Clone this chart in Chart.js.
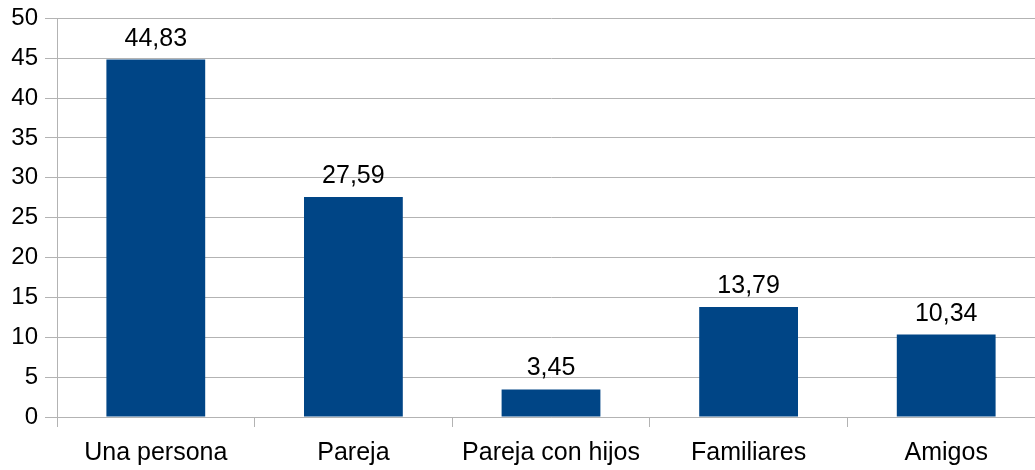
<!DOCTYPE html>
<html>
<head>
<meta charset="utf-8">
<script src="https://cdn.jsdelivr.net/npm/chart.js@4/dist/chart.umd.min.js"></script>
<style>
html,body{margin:0;padding:0;background:#fff;overflow:hidden;}
#wrap{width:1035px;height:470px;position:relative;overflow:hidden;}
canvas{display:block;}
</style>
</head>
<body>
<div id="wrap"><canvas id="c" width="1046" height="470"></canvas></div>
<script>
const categories = ["Una persona", "Pareja", "Pareja con hijos", "Familiares", "Amigos"];
const values = [44.83, 27.59, 3.45, 13.79, 10.34];
const valueLabels = ["44,83", "27,59", "3,45", "13,79", "10,34"];
const yTicks = [0, 5, 10, 15, 20, 25, 30, 35, 40, 45, 50];

const FONT = "'Liberation Sans', Arial, sans-serif";
const FSIZE_Y = 24;
const FSIZE = 25;

const labelPlugin = {
  id: 'valueLabels',
  afterDatasetsDraw(chart) {
    const ctx = chart.ctx;
    const meta = chart.getDatasetMeta(0);
    ctx.save();
    ctx.font = FSIZE + "px " + FONT;
    ctx.fillStyle = "#000";
    ctx.textAlign = "center";
    ctx.textBaseline = "alphabetic";
    meta.data.forEach((bar, i) => {
      ctx.fillText(valueLabels[i], bar.x, bar.y - 14);
    });
    ctx.restore();
  }
};

new Chart(document.getElementById('c'), {
  type: 'bar',
  data: {
    labels: categories,
    datasets: [{
      data: values,
      backgroundColor: '#004586',
      borderWidth: 0,
      categoryPercentage: 1,
      barPercentage: 0.5
    }]
  },
  options: {
    responsive: false,
    animation: false,
    devicePixelRatio: 1,
    layout: { padding: { top: 10, right: 1, left: 0, bottom: 0 } },
    plugins: { legend: { display: false }, tooltip: { enabled: false } },
    scales: {
      x: {
        offset: true,
        grid: {
          offset: true,
          display: true,
          drawOnChartArea: false,
          drawTicks: true,
          tickLength: 10,
          color: '#b3b3b3',
          lineWidth: 1
        },
        border: { display: true, color: '#b3b3b3' },
        ticks: {
          color: '#000',
          font: { family: FONT, size: FSIZE },
          padding: 11,
          maxRotation: 0,
          autoSkip: false
        },
        afterFit(scale) { scale.height = 53; }
      },
      y: {
        min: 0,
        max: 50,
        afterBuildTicks(scale) { scale.ticks = yTicks.map(v => ({ value: v })); },
        grid: {
          color: '#b3b3b3',
          lineWidth: 1,
          drawTicks: true,
          tickLength: 12
        },
        border: { display: true, color: '#b3b3b3' },
        ticks: {
          color: '#000',
          font: { family: FONT, size: FSIZE_Y, lineHeight: 0.95 },
          padding: 7
        },
        afterFit(scale) { scale.width = 57; }
      }
    }
  },
  plugins: [labelPlugin]
});
</script>
</body>
</html>
